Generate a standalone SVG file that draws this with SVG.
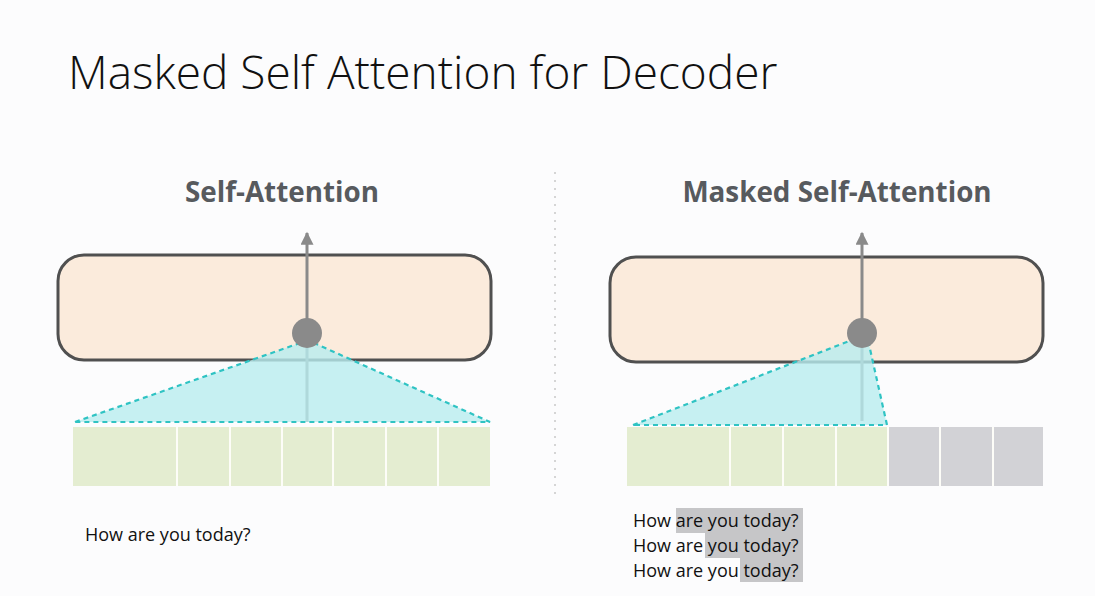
<svg xmlns="http://www.w3.org/2000/svg" width="1095" height="596" viewBox="0 0 1095 596">
<defs>
<style>
.title{font-family:"Open Sans","Liberation Sans",sans-serif;font-weight:300;font-size:46px;fill:#111}
.hdr{font-family:"Open Sans","Liberation Sans",sans-serif;font-weight:700;font-size:27.8px;fill:#575a5e;text-anchor:middle}
.txt{font-family:"Open Sans","Liberation Sans",sans-serif;font-size:18px;fill:#111}
.box{fill:#fbebdc;stroke:#505050;stroke-width:3}
.cell{fill:#e4edd1}
.mcell{fill:#d2d2d6}
.div{stroke:#fdfdf8;stroke-width:2}
.tri{fill:#b8ecef;fill-opacity:0.8;stroke:#2fc3c3;stroke-width:2.2;stroke-dasharray:5 4}
.stem{stroke:#8a8a8a;stroke-width:3}
.node{fill:#8a8a8a}
.hl{fill:#c6c6c8}
</style>
<marker id="ah" viewBox="0 0 10 10" refX="9" refY="5" markerWidth="14" markerHeight="13" markerUnits="userSpaceOnUse" orient="auto">
<path d="M0,0 L10,5 L0,10 Z" fill="#8a8a8a"/>
</marker>
</defs>
<rect width="1095" height="596" fill="#fcfcfd"/>
<text class="title" x="68" y="89">Masked Self Attention for Decoder</text>
<line x1="555" y1="172" x2="555" y2="500" stroke="#c8c8c8" stroke-width="1.5" stroke-dasharray="2 6"/>

<g id="left">
<text class="hdr" x="282" y="202">Self-Attention</text>
<rect class="box" x="58" y="255" width="433" height="105" rx="26"/>
<rect class="cell" x="73" y="427" width="417" height="59"/>
<g class="div">
<line x1="177" y1="427" x2="177" y2="486"/><line x1="230" y1="427" x2="230" y2="486"/><line x1="282" y1="427" x2="282" y2="486"/><line x1="333" y1="427" x2="333" y2="486"/><line x1="386" y1="427" x2="386" y2="486"/><line x1="438" y1="427" x2="438" y2="486"/>
</g>
</g>

<g id="right">
<text class="hdr" x="837" y="202">Masked Self-Attention</text>
<rect class="box" x="610" y="257" width="433" height="105" rx="26"/>
<rect class="cell" x="627" y="427" width="261" height="59"/>
<rect class="mcell" x="888" y="427" width="155" height="59"/>
<g class="div">
<line x1="730" y1="427" x2="730" y2="486"/><line x1="783" y1="427" x2="783" y2="486"/><line x1="836" y1="427" x2="836" y2="486"/><line x1="888" y1="427" x2="888" y2="486"/><line x1="940" y1="427" x2="940" y2="486"/><line x1="993" y1="427" x2="993" y2="486"/>
</g>
</g>

<g id="connectors">
<line class="stem" x1="307" y1="422" x2="307" y2="333"/>
<line class="stem" x1="307" y1="333" x2="307" y2="233" marker-end="url(#ah)"/>
<polygon class="tri" points="75,422 300,343 314,343 490,422"/>
<circle class="node" cx="307" cy="333" r="15"/>
<line class="stem" x1="862" y1="421" x2="862" y2="333"/>
<line class="stem" x1="862" y1="333" x2="862" y2="233" marker-end="url(#ah)"/>
<polygon class="tri" points="633,425 852,340 868,340 887,425"/>
<circle class="node" cx="862" cy="333" r="15"/>
</g>

<g id="sentences">
<text class="txt" x="85" y="541">How are you today?</text>
<rect class="hl" x="676" y="508" width="127" height="25"/>
<rect class="hl" x="705" y="533" width="98" height="25"/>
<rect class="hl" x="740" y="558" width="63" height="24"/>
<text class="txt" x="633" y="527">How are you today?</text>
<text class="txt" x="633" y="552">How are you today?</text>
<text class="txt" x="633" y="577">How are you today?</text>
</g>
</svg>
